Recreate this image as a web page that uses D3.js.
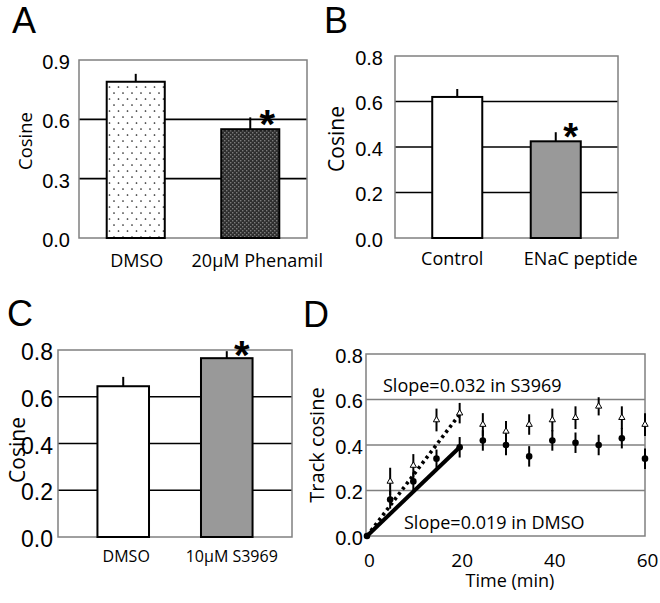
<!DOCTYPE html>
<html><head><meta charset="utf-8">
<script src="https://cdn.jsdelivr.net/npm/d3@7"></script>
<style>body{margin:0;background:#fff}svg{display:block}</style>
</head><body>
<script>
// ---- data ----
const catsA = ["DMSO", "20\u03bcM Phenamil"];
const valsA = [0.79, 0.55];
const errA  = [0.04, 0.06];
const ticksA = [0, 0.3, 0.6, 0.9];

const catsB = ["Control", "ENaC peptide"];
const valsB = [0.62, 0.425];
const errB  = [0.035, 0.04];
const ticksB = [0, 0.2, 0.4, 0.6, 0.8];

const catsC = ["DMSO", "10\u03bcM S3969"];
const valsC = [0.645, 0.765];
const errC  = [0.04, 0.03];
const ticksC = [0, 0.2, 0.4, 0.6, 0.8];

const timeD   = [0, 5, 10, 15, 20, 25, 30, 35, 40, 45, 50, 55, 60];
const s3969D  = [0, 0.24, 0.31, 0.51, 0.54, 0.49, 0.46, 0.49, 0.51, 0.52, 0.57, 0.52, 0.49];
const s3969Err= [0, 0.06, 0.05, 0.05, 0.045, 0.05, 0.045, 0.045, 0.05, 0.05, 0.04, 0.05, 0.05];
const dmsoD   = [0, 0.16, 0.24, 0.34, 0.39, 0.42, 0.40, 0.35, 0.42, 0.41, 0.40, 0.43, 0.34];
const dmsoErr = [0, 0.04, 0.04, 0.04, 0.045, 0.045, 0.045, 0.045, 0.045, 0.045, 0.045, 0.045, 0.045];
const fitTime = [0, 20];
const fitS3969 = [0, 0.535];
const fitDmso  = [0, 0.39];
const ticksDy = [0, 0.2, 0.4, 0.6, 0.8];
const ticksDx = [0, 20, 40, 60];

const TICKF = "'Liberation Sans', Arial, sans-serif";
const LABF = "'Open Sans', 'Noto Sans', sans-serif";

const svg = d3.select("body").append("svg").attr("width", 660).attr("height", 603);
const defs = svg.append("defs");
const pd = defs.append("pattern").attr("id", "dots").attr("patternUnits", "userSpaceOnUse")
  .attr("width", 9).attr("height", 12).attr("x", 107).attr("y", 0);
pd.append("rect").attr("width", 9).attr("height", 12).attr("fill", "#fff");
pd.append("circle").attr("cx", 2.5).attr("cy", 3).attr("r", 0.85).attr("fill", "#222");
pd.append("circle").attr("cx", 7).attr("cy", 9).attr("r", 0.85).attr("fill", "#222");
const pc = defs.append("pattern").attr("id", "dark").attr("patternUnits", "userSpaceOnUse")
  .attr("width", 4).attr("height", 4);
pc.append("rect").attr("width", 4).attr("height", 4).attr("fill", "#2e2e2e");
pc.append("rect").attr("x", 0).attr("y", 0).attr("width", 1.4).attr("height", 1.4).attr("fill", "#7a7a7a");
pc.append("rect").attr("x", 2).attr("y", 2).attr("width", 1.4).attr("height", 1.4).attr("fill", "#7a7a7a");

function letter(t, x, y) {
  svg.append("text").attr("x", x).attr("y", y).text(t)
    .attr("font-family", TICKF).attr("font-size", 36).attr("fill", "#000");
}
function ylabel(t, x, y, fs) {
  svg.append("text").attr("transform", `translate(${x},${y}) rotate(-90)`)
    .attr("text-anchor", "middle").attr("dominant-baseline", "central")
    .attr("font-family", LABF).attr("font-size", fs).text(t);
}
function star(x, y, fs) {
  svg.append("text").attr("x", x).attr("y", y + fs * 0.58).attr("text-anchor", "middle")
    .attr("font-family", TICKF).attr("font-size", fs).attr("font-weight", "bold").text("*");
}

function barPanel(o) {
  const y = d3.scaleLinear().domain([0, o.ticks[o.ticks.length - 1]]).range([o.b, o.t]);
  const x = d3.scaleBand().domain(o.cats).range([o.l, o.r])
    .paddingInner(o.pi).paddingOuter(o.po);
  const g = svg.append("g");
  g.selectAll("line.grid").data(o.ticks.slice(1, -1)).join("line")
    .attr("x1", o.l).attr("x2", o.r).attr("y1", d => y(d)).attr("y2", d => y(d))
    .attr("stroke", "#000").attr("stroke-width", 1.6);
  g.append("rect").attr("x", o.l).attr("y", o.t).attr("width", o.r - o.l).attr("height", o.b - o.t)
    .attr("fill", "none").attr("stroke", "#808080").attr("stroke-width", 1.5);
  const ax = d3.axisLeft(y).tickValues(o.ticks).tickFormat(d3.format(".1f")).tickSize(0).tickPadding(o.tp);
  const ag = g.append("g").attr("transform", `translate(${o.l},0)`).call(ax);
  ag.select(".domain").remove();
  ag.selectAll("text").attr("font-family", TICKF).attr("font-size", o.tfs).attr("fill", "#000").attr("dy", "0.42em");
  g.selectAll("line.err").data(o.vals).join("line")
    .attr("x1", (d, i) => x(o.cats[i]) + x.bandwidth() / 2)
    .attr("x2", (d, i) => x(o.cats[i]) + x.bandwidth() / 2)
    .attr("y1", d => y(d)).attr("y2", (d, i) => y(d + o.err[i]))
    .attr("stroke", "#000").attr("stroke-width", 2);
  g.selectAll("rect.bar").data(o.vals).join("rect")
    .attr("x", (d, i) => x(o.cats[i])).attr("width", x.bandwidth())
    .attr("y", d => y(d)).attr("height", d => o.b - y(d))
    .attr("fill", (d, i) => o.fills[i]).attr("stroke", "#000").attr("stroke-width", 2);
  g.selectAll("text.cat").data(o.cats).join("text")
    .attr("x", (d, i) => x(d) + x.bandwidth() / 2 + o.lofs[i]).attr("y", o.ly)
    .attr("text-anchor", "middle").attr("font-family", LABF).attr("font-size", o.lfs).text(d => d);
  const i = 1;
  star(x(o.cats[i]) + x.bandwidth() / 2 + o.sdx, y(o.vals[i] + o.err[i]) + o.sdy, o.sfs);
}

// Panel A
letter("A", 12, 33);
ylabel("Cosine", 24, 141, 18.5);
barPanel({cats: catsA, vals: valsA, err: errA, ticks: ticksA, l: 79, r: 307, t: 60, b: 238,
  pi: 0.493, po: 0.242, fills: ["url(#dots)", "url(#dark)"], tp: 9, tfs: 20,
  ly: 267, lfs: 18, lofs: [1, 7], sdx: 17, sdy: -3, sfs: 40});

// Panel B
letter("B", 324, 33);
ylabel("Cosine", 336, 139, 21);
barPanel({cats: catsB, vals: valsB, err: errB, ticks: ticksB, l: 395, r: 618, t: 56, b: 238,
  pi: 0.492, po: 0.378, fills: ["#fff", "#999"], tp: 12, tfs: 20,
  ly: 265, lfs: 18, lofs: [-5, 25], sdx: 15, sdy: -4, sfs: 38});

// Panel C
letter("C", 7, 326);
ylabel("Cosine", 17, 450, 21);
barPanel({cats: catsC, vals: valsC, err: errC, ticks: ticksC, l: 58, r: 292, t: 350, b: 537,
  pi: 0.502, po: 0.381, fills: ["#fff", "#999"], tp: 5, tfs: 23,
  ly: 562, lfs: 16, lofs: [3, 5], sdx: 15, sdy: -5, sfs: 40});

// Panel D
letter("D", 303, 327);
ylabel("Track cosine", 316, 445, 20);
(function () {
  const l = 366, r = 645, t = 354, b = 536;
  const x = d3.scaleLinear().domain([0, 60]).range([367, 645]);
  const y = d3.scaleLinear().domain([0, 0.8]).range([b, t]);
  const g = svg.append("g");
  g.selectAll("line.grid").data(ticksDy.slice(1, -1)).join("line")
    .attr("x1", l).attr("x2", r).attr("y1", d => y(d)).attr("y2", d => y(d))
    .attr("stroke", "#808080").attr("stroke-width", 1.6);
  g.append("rect").attr("x", l).attr("y", t).attr("width", r - l).attr("height", b - t)
    .attr("fill", "none").attr("stroke", "#808080").attr("stroke-width", 1.5);
  const ay = d3.axisLeft(y).tickValues(ticksDy).tickFormat(d3.format(".1f")).tickSize(0).tickPadding(3);
  const ag = g.append("g").attr("transform", `translate(${l},0)`).call(ay);
  ag.select(".domain").remove();
  ag.selectAll("text").attr("font-family", TICKF).attr("font-size", 20).attr("fill", "#000").attr("dy", "0.42em");
  const axx = d3.axisBottom(x).tickValues(ticksDx).tickFormat(d3.format("d")).tickSize(0).tickPadding(0);
  const xg = g.append("g").attr("transform", `translate(2,${b})`).call(axx);
  xg.select(".domain").remove();
  xg.selectAll("text").attr("font-family", LABF).attr("font-size", 19).attr("fill", "#000").attr("dy", "1.62em");
  svg.append("text").attr("x", 510).attr("y", 587).attr("text-anchor", "middle")
    .attr("font-family", LABF).attr("font-size", 18).text("Time (min)");

  const pts = timeD.map((tt, i) => ({t: tt, s: s3969D[i], se: s3969Err[i], d: dmsoD[i], de: dmsoErr[i]}));
  g.selectAll("line.es").data(pts.filter(p => p.se > 0)).join("line")
    .attr("x1", p => x(p.t)).attr("x2", p => x(p.t))
    .attr("y1", p => y(p.s - p.se)).attr("y2", p => y(p.s + p.se))
    .attr("stroke", "#000").attr("stroke-width", 2);
  g.selectAll("line.ed").data(pts.filter(p => p.de > 0)).join("line")
    .attr("x1", p => x(p.t)).attr("x2", p => x(p.t))
    .attr("y1", p => y(p.d - p.de)).attr("y2", p => y(p.d + p.de))
    .attr("stroke", "#000").attr("stroke-width", 2);
  const line = d3.line().x(d => x(d[0])).y(d => y(d[1]));
  g.append("path").datum(fitTime.map((tt, i) => [tt, fitDmso[i]])).attr("d", line)
    .attr("fill", "none").attr("stroke", "#000").attr("stroke-width", 4);
  g.append("path").datum(fitTime.map((tt, i) => [tt, fitS3969[i]])).attr("d", line)
    .attr("fill", "none").attr("stroke", "#000").attr("stroke-width", 3.6).attr("stroke-dasharray", "3,3.5");
  g.selectAll("circle.dm").data(pts).join("circle")
    .attr("cx", p => x(p.t)).attr("cy", p => y(p.d)).attr("r", 3.3).attr("fill", "#000");
  const tri = d3.symbol().type(d3.symbolTriangle).size(17);
  g.selectAll("path.tr").data(pts.filter(p => p.t > 0)).join("path")
    .attr("d", tri).attr("transform", p => `translate(${x(p.t)},${y(p.s)})`)
    .attr("fill", "#fff").attr("stroke", "#000").attr("stroke-width", 1);
  svg.append("text").attr("x", 383).attr("y", 392).attr("font-family", LABF).attr("font-size", 18).text("Slope=0.032 in S3969");
  svg.append("text").attr("x", 404).attr("y", 529).attr("font-family", LABF).attr("font-size", 18).text("Slope=0.019 in DMSO");
})();
</script>
</body></html>
